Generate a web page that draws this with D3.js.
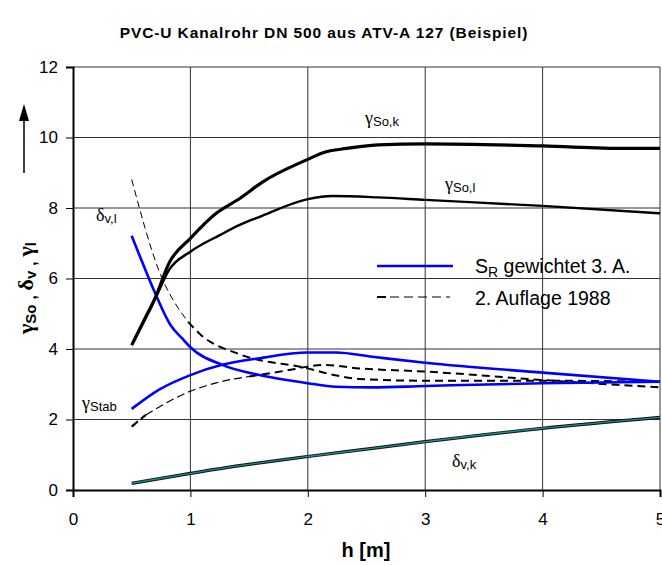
<!DOCTYPE html>
<html><head><meta charset="utf-8">
<script src="https://cdn.jsdelivr.net/npm/d3@7"></script>
<style>body{margin:0;background:#fff}svg{display:block}</style>
</head><body>
<svg id="c" width="662" height="565"></svg>
<script>
// ---- data ----
const xTicks = [0,1,2,3,4,5];
const yTicks = [0,2,4,6,8,10,12];
const title = "PVC-U Kanalrohr DN 500 aus ATV-A 127 (Beispiel)";
const xLabel = "h [m]";

const hSoK = [0.5,0.6,0.7,0.82,1.0,1.22,1.42,1.62,2.0,2.13,2.33,2.6,3.0,4.0,4.7,5.0];
const gammaSoK = [4.11,4.78,5.45,6.45,7.14,7.85,8.27,8.75,9.38,9.57,9.69,9.79,9.82,9.76,9.69,9.69];

const hSoL = [0.5,0.6,0.7,0.82,1.0,1.25,1.42,1.59,2.0,2.21,2.6,3.0,4.0,5.0];
const gammaSoL = [4.11,4.75,5.42,6.25,6.76,7.23,7.52,7.75,8.25,8.34,8.30,8.23,8.06,7.85];

const hDvlNew = [0.5,0.56,0.7,0.83,0.93,1.0,1.27,1.59,2.0,2.24,2.55,3.0,4.0,5.0];
const deltaVlNew = [7.21,6.71,5.58,4.68,4.30,4.05,3.55,3.26,3.03,2.93,2.91,2.95,3.03,3.07];

const hStabNew = [0.5,0.73,1.0,1.27,1.59,2.0,2.24,2.55,3.0,4.0,5.0];
const gammaStabNew = [2.30,2.84,3.26,3.55,3.74,3.90,3.90,3.78,3.61,3.33,3.07];

const hDvlOld = [0.5,0.73,0.98,1.09,1.42,2.0,2.2,2.44,3.0,4.0,5.0];
const deltaVlOld = [8.81,6.24,4.77,4.40,3.85,3.45,3.28,3.15,3.10,3.10,3.07];

const hStabOld = [0.5,0.62,0.99,1.22,1.5,1.8,2.0,2.13,2.44,3.0,4.0,5.0];
const gammaStabOld = [1.80,2.13,2.79,3.04,3.22,3.38,3.50,3.55,3.45,3.36,3.12,2.91];

const hDvk = [0.5,1.0,1.42,1.59,2.0,2.55,3.0,4.0,5.0];
const deltaVk = [0.19,0.47,0.69,0.77,0.95,1.18,1.37,1.75,2.06];

const legendLabels = ["gewichtet 3. A.", "2. Auflage 1988"];

// ---- drawing ----
const SANS = "Liberation Sans, Arial, sans-serif";
const SERIF = "Liberation Serif, Times New Roman, serif";
const svg = d3.select("#c");
svg.append("rect").attr("width",662).attr("height",565).attr("fill","#fff");
const x = d3.scaleLinear().domain([0,5]).range([73,660]);
const y = d3.scaleLinear().domain([0,12]).range([490,67]);
const zip = (a,b)=>a.map((v,i)=>[v,b[i]]);
const line = d3.line().x(d=>x(d[0])).y(d=>y(d[1])).curve(d3.curveMonotoneX);

// grid
const g = svg.append("g");
g.selectAll("line.hg").data(yTicks.filter(v=>v>0)).join("line")
  .attr("x1",x(0)).attr("x2",x(5)).attr("y1",d=>y(d)).attr("y2",d=>y(d))
  .attr("stroke","#333").attr("stroke-width",1);
g.selectAll("line.vg").data(xTicks.filter(v=>v>0)).join("line")
  .attr("y1",y(0)).attr("y2",y(12)).attr("x1",d=>x(d)).attr("x2",d=>x(d))
  .attr("stroke","#333").attr("stroke-width",1);

// axes
const ax = svg.append("g").attr("transform",`translate(0,${y(0)})`)
  .call(d3.axisBottom(x).tickValues(xTicks).tickSize(7).tickPadding(16).tickFormat(d3.format("d")));
const ay = svg.append("g").attr("transform",`translate(${x(0)},0)`)
  .call(d3.axisLeft(y).tickValues(yTicks).tickSize(7).tickPadding(8).tickFormat(d3.format("d")));
[ax,ay].forEach(a=>{
  a.select(".domain").attr("stroke","#000").attr("stroke-width",2);
  a.selectAll(".tick line").attr("stroke","#000").attr("stroke-width",1);
  a.selectAll("text").attr("font-family",SANS).attr("font-size",17).attr("fill","#000");
});

// series
const P = svg.append("g").attr("fill","none").attr("stroke-linejoin","round");
P.append("path").attr("d",line(zip(hDvk,deltaVk))).attr("stroke","#111").attr("stroke-width",3.2);
P.append("path").attr("d",line(zip(hDvk,deltaVk))).attr("stroke","#1a8a8a").attr("stroke-width",1.4);
const dvlOld = zip(hDvlOld,deltaVlOld);
P.append("path").attr("d",line(dvlOld.filter(d=>d[0]<=0.98))).attr("stroke","#000").attr("stroke-width",1).attr("stroke-dasharray","7,4");
P.append("path").attr("d",line(dvlOld.filter(d=>d[0]>=0.98))).attr("stroke","#000").attr("stroke-width",2).attr("stroke-dasharray","8,5");
const stOld = zip(hStabOld,gammaStabOld);
P.append("path").attr("d",line(stOld.filter(d=>d[0]<=0.62))).attr("stroke","#000").attr("stroke-width",2.2).attr("stroke-dasharray","8,4");
P.append("path").attr("d",line(stOld.filter(d=>d[0]>=0.62&&d[0]<=1.5))).attr("stroke","#000").attr("stroke-width",1.2).attr("stroke-dasharray","8,4");
P.append("path").attr("d",line(stOld.filter(d=>d[0]>=1.5))).attr("stroke","#000").attr("stroke-width",2).attr("stroke-dasharray","8,5");
P.append("path").attr("d",line(zip(hDvlNew,deltaVlNew))).attr("stroke","#0000ff").attr("stroke-width",2.6);
P.append("path").attr("d",line(zip(hStabNew,gammaStabNew))).attr("stroke","#0000ff").attr("stroke-width",2.6);
P.append("path").attr("d",line(zip(hSoL,gammaSoL))).attr("stroke","#000").attr("stroke-width",2.4);
P.append("path").attr("d",line(zip(hSoK,gammaSoK))).attr("stroke","#000").attr("stroke-width",3.2);

// curve labels
function symLabel(px,py,sym,sub){
  const t = svg.append("text").attr("x",px).attr("y",py).attr("fill","#000");
  t.append("tspan").text(sym).attr("font-family",SERIF).attr("font-size",18);
  t.append("tspan").text(sub).attr("font-family",SANS).attr("font-size",13).attr("dy",2);
  return t;
}
symLabel(365,124,"γ","So,k");
symLabel(445,190,"γ","So,l");
symLabel(96,221,"δ","v,l");
symLabel(82,409,"γ","Stab");
symLabel(452,467,"δ","v,k");

// legend
svg.append("line").attr("x1",377).attr("x2",453).attr("y1",266).attr("y2",266).attr("stroke","#0000ff").attr("stroke-width",2.6);
svg.append("line").attr("x1",377).attr("x2",386).attr("y1",297).attr("y2",297).attr("stroke","#000").attr("stroke-width",2);
svg.append("line").attr("x1",390).attr("x2",450).attr("y1",297).attr("y2",297).attr("stroke","#000").attr("stroke-width",1).attr("stroke-dasharray","9,5");
const lt = svg.append("text").attr("x",475).attr("y",273).attr("font-family",SANS).attr("font-size",19.5);
lt.append("tspan").text("S");
lt.append("tspan").text("R").attr("font-size",14).attr("dy",4);
lt.append("tspan").text(" "+legendLabels[0]).attr("dy",-4);
svg.append("text").attr("x",475).attr("y",305).attr("font-family",SANS).attr("font-size",19.5).text(legendLabels[1]);

// title
svg.append("text").attr("x",324).attr("y",38).attr("text-anchor","middle")
  .attr("font-family",SANS).attr("font-weight","bold").attr("font-size",15.5)
  .attr("letter-spacing",0.9).text(title);
// x label
svg.append("text").attr("x",366).attr("y",557).attr("text-anchor","middle")
  .attr("font-family",SANS).attr("font-weight","bold").attr("font-size",20).text(xLabel);

// y label (rotated)
const yl = svg.append("text").attr("transform","translate(33,288) rotate(-90)").attr("text-anchor","middle")
  .attr("font-weight","bold").attr("fill","#000");
const parts = [["γ","So"],["δ","v"],["γ","l"]];
parts.forEach((p,i)=>{
  yl.append("tspan").text(p[0]).attr("font-family",SERIF).attr("font-size",22).attr("dy",i===0?0:-3);
  yl.append("tspan").text(p[1]).attr("font-family",SANS).attr("font-size",15).attr("dy",3);
  if(i<2) yl.append("tspan").text(" , ").attr("font-family",SANS).attr("font-size",17);
});
// arrow
svg.append("line").attr("x1",24).attr("x2",24).attr("y1",173).attr("y2",118).attr("stroke","#000").attr("stroke-width",1.5);
svg.append("path").attr("d","M24,104 L19,121 L29,121 Z").attr("fill","#000");
</script>
</body></html>
